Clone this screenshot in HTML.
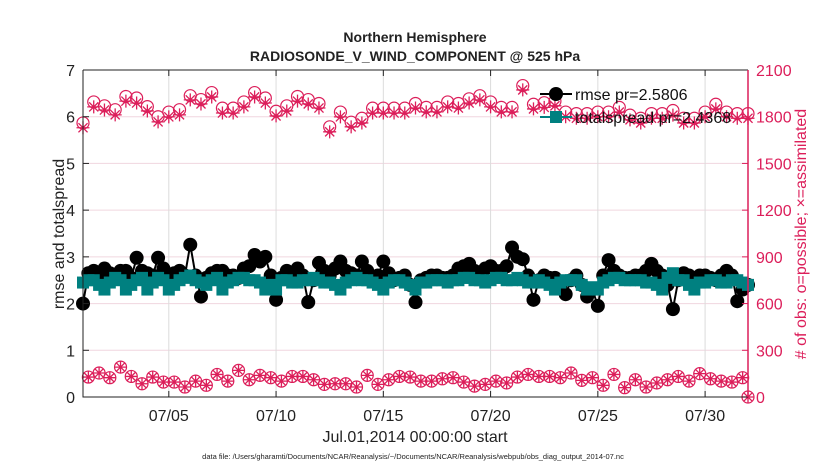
<!DOCTYPE html>
<html><head><meta charset="utf-8"><style>
body{margin:0;background:#fff;}
svg{display:block;font-family:"Liberation Sans",Arial,sans-serif;}
</style></head><body>
<svg id="c" width="830" height="470" xmlns="http://www.w3.org/2000/svg">
<rect width="830" height="470" fill="#fff"/>
<g id="grid"></g><g id="marks"></g><g id="axes"></g><g id="legend"></g>
<text x="415" y="42" text-anchor="middle" font-size="14" font-weight="bold" fill="#222">Northern Hemisphere</text>
<text x="415" y="61" text-anchor="middle" font-size="14" font-weight="bold" fill="#222">RADIOSONDE_V_WIND_COMPONENT @ 525 hPa</text>
<text x="415" y="442" text-anchor="middle" font-size="16" fill="#222">Jul.01,2014 00:00:00 start</text>
<text transform="translate(64,234) rotate(-90)" text-anchor="middle" font-size="16" fill="#222">rmse and totalspread</text>
<text transform="translate(806,234) rotate(-90)" text-anchor="middle" font-size="16" fill="#dc1e5a"># of obs: o=possible; ×=assimilated</text>
<text x="413" y="459" text-anchor="middle" font-size="7.5" fill="#222">data file: /Users/gharamti/Documents/NCAR/Reanalysis/~/Documents/NCAR/Reanalysis/webpub/obs_diag_output_2014-07.nc</text>
</svg>
<script>
const rmse=[2.0,2.65,2.7,2.6,2.75,2.65,2.6,2.7,2.7,2.55,2.98,2.7,2.65,2.6,2.98,2.75,2.6,2.65,2.7,2.6,3.26,2.6,2.15,2.55,2.65,2.7,2.7,2.6,2.6,2.55,2.75,2.8,3.04,2.9,3.0,2.6,2.08,2.55,2.7,2.65,2.75,2.6,2.03,2.5,2.87,2.7,2.6,2.75,2.9,2.7,2.65,2.6,2.9,2.7,2.55,2.6,2.9,2.65,2.5,2.55,2.6,2.4,2.03,2.5,2.55,2.6,2.6,2.55,2.55,2.6,2.75,2.8,2.85,2.7,2.6,2.75,2.8,2.7,2.7,2.8,3.2,3.0,2.95,2.6,2.08,2.5,2.6,2.55,2.55,2.4,2.2,2.5,2.6,2.4,2.15,2.3,1.95,2.6,2.93,2.7,2.6,2.55,2.55,2.6,2.6,2.7,2.85,2.7,2.6,2.4,1.88,2.5,2.65,2.6,2.55,2.6,2.6,2.55,2.5,2.6,2.7,2.6,2.05,2.3,2.4];
const spread=[2.45,2.5,2.5,2.4,2.3,2.45,2.55,2.5,2.3,2.4,2.5,2.55,2.3,2.45,2.55,2.5,2.3,2.4,2.5,2.55,2.6,2.5,2.45,2.4,2.5,2.55,2.3,2.45,2.5,2.55,2.55,2.5,2.5,2.45,2.3,2.4,2.3,2.5,2.5,2.45,2.45,2.5,2.5,2.55,2.5,2.45,2.45,2.4,2.3,2.45,2.5,2.55,2.5,2.5,2.45,2.4,2.3,2.45,2.5,2.5,2.45,2.4,2.3,2.45,2.45,2.5,2.5,2.5,2.45,2.5,2.5,2.55,2.55,2.5,2.5,2.45,2.5,2.55,2.55,2.5,2.5,2.55,2.5,2.45,2.45,2.5,2.45,2.4,2.3,2.45,2.5,2.5,2.5,2.4,2.3,2.35,2.3,2.45,2.5,2.55,2.55,2.5,2.5,2.5,2.5,2.45,2.45,2.4,2.3,2.55,2.65,2.5,2.5,2.4,2.3,2.45,2.45,2.5,2.5,2.45,2.45,2.5,2.5,2.45,2.4];
const upperAssim=[1729,1863,1843,1812,1900,1888,1837,1767,1799,1812,1908,1882,1927,1824,1824,1863,1927,1888,1805,1837,1900,1882,1856,1703,1799,1735,1760,1824,1824,1824,1824,1856,1831,1831,1863,1856,1888,1908,1863,1831,1831,1972,1850,1860,1870,1800,1790,1790,1800,1800,1830,1780,1760,1790,1790,1810,1760,1760,1800,1850,1800,1790,1790];
const upperPoss=[1760,1895,1870,1845,1930,1920,1865,1800,1830,1845,1935,1910,1955,1855,1855,1895,1955,1920,1835,1870,1930,1910,1885,1735,1830,1765,1790,1855,1855,1855,1855,1885,1860,1860,1895,1885,1915,1935,1895,1860,1860,2000,1880,1890,1900,1830,1820,1820,1830,1830,1860,1810,1790,1820,1820,1840,1790,1790,1830,1880,1830,1820,1820];
const lowerPoss=[128,154,124,192,132,85,128,96,96,64,102,75,145,102,171,111,139,124,102,132,132,111,81,85,85,64,139,81,111,132,128,102,102,117,124,96,70,81,102,90,128,145,132,132,124,154,107,124,75,145,60,111,64,90,111,132,102,150,117,102,96,124,0];
const lowerAssim=[128,154,124,192,132,85,128,96,96,64,102,75,145,102,171,111,139,124,102,132,132,111,81,85,85,64,139,81,111,132,128,102,102,117,124,96,70,81,102,90,128,145,132,132,124,154,107,124,75,145,60,111,64,90,111,132,102,150,117,102,96,124,0];
const leftTicks=[0,1,2,3,4,5,6,7];
const rightTicks=[0,300,600,900,1200,1500,1800,2100];
const xTickDays=[4,9,14,19,24,29];
const xTickLabels=["07/05","07/10","07/15","07/20","07/25","07/30"];

const L=83,R=748,T=70,B=397,PINK="#dc1e5a",TEAL="#008080";
const NS="http://www.w3.org/2000/svg";
const X=t=>L+t/31*(R-L);
const Y=v=>B-v/7*(B-T);
const YR=v=>B-v/2100*(B-T);
function mk(tag,attrs,parent){const e=document.createElementNS(NS,tag);for(const k in attrs)e.setAttribute(k,attrs[k]);parent.appendChild(e);return e;}
const grid=document.getElementById('grid'),marks=document.getElementById('marks'),axes=document.getElementById('axes'),leg=document.getElementById('legend');
const tU=i=>i*0.5, tE=i=>i*0.25, tL=i=>(i===lowerPoss.length-1)?31:0.25+i*0.5;

leftTicks.forEach(v=>{
 const g=mk('line',{x1:L,x2:R,y1:Y(v),y2:Y(v),stroke:'#f0d6df','stroke-width':1},grid);
 
 
 const t=mk('text',{x:L-8,y:Y(v)+6,'text-anchor':'end','font-size':16,fill:'#222'},axes);t.textContent=v;
 
 
 mk('line',{x1:L,x2:L+6,y1:Y(v),y2:Y(v),stroke:'#222'},axes);
});
rightTicks.forEach(v=>{
 const t=mk('text',{x:R+8,y:YR(v)+6,'font-size':16,fill:PINK},axes);t.textContent=v;
 
 
 mk('line',{x1:R-6,x2:R,y1:YR(v),y2:YR(v),stroke:PINK},axes);
});
xTickDays.forEach((d,i)=>{
 const g=mk('line',{x1:X(d),x2:X(d),y1:T,y2:B,stroke:'#dcdcdc'},grid);
 
 
 mk('line',{x1:X(d),x2:X(d),y1:B,y2:B-6,stroke:'#222'},axes);
 mk('line',{x1:X(d),x2:X(d),y1:T,y2:T+6,stroke:'#222'},axes);
 const t=mk('text',{x:X(d),y:B+24,'text-anchor':'middle','font-size':16,fill:'#222'},axes);t.textContent=xTickLabels[i];
 
 
});
const ax=mk('path',{d:`M${L},${T}V${B}H${R}M${L},${T}H${R}`,stroke:'#222',fill:'none','stroke-width':1},axes);


const ra=mk('line',{x1:R,x2:R,y1:T,y2:B,stroke:PINK,'stroke-width':1.5},axes);



function asterisk(cx,cy,r,parent,name){
 const p=mk('path',{d:`M${cx-r},${cy}H${cx+r}M${cx},${cy-r}V${cy+r}M${cx-r*.7},${cy-r*.7}L${cx+r*.7},${cy+r*.7}M${cx-r*.7},${cy+r*.7}L${cx+r*.7},${cy-r*.7}`,stroke:PINK,'stroke-width':1.3,fill:'none'},parent);
 
 
}
function circ(cx,cy,parent,name){
 const c=mk('circle',{cx,cy,r:6,fill:'none',stroke:PINK,'stroke-width':1.2},parent);
 
 
}
upperPoss.forEach((v,i)=>circ(X(tU(i)),YR(v),marks,'possible-obs-marker'));
upperAssim.forEach((v,i)=>asterisk(X(tU(i)),YR(v),6.5,marks,'assimilated-obs-marker'));
lowerPoss.forEach((v,i)=>circ(X(tL(i)),YR(v),marks,'possible-obs-marker-lower'));
lowerAssim.forEach((v,i)=>asterisk(X(tL(i)),YR(v),6,marks,'assimilated-obs-marker-lower'));

const rl=mk('polyline',{points:rmse.map((v,i)=>X(tE(i))+','+Y(v)).join(' '),stroke:'#000','stroke-width':2,fill:'none'},marks);


rmse.forEach((v,i)=>{const c=mk('circle',{cx:X(tE(i)),cy:Y(v),r:7,fill:'#000'},marks);
 
 });
const sl=mk('polyline',{points:spread.map((v,i)=>X(tE(i))+','+Y(v)).join(' '),stroke:TEAL,'stroke-width':2,fill:'none'},marks);


spread.forEach((v,i)=>{const s=mk('rect',{x:X(tE(i))-6,y:Y(v)-6,width:12,height:12,fill:TEAL},marks);
 
 });

// legend
const l1=mk('line',{x1:540,x2:572,y1:94,y2:94,stroke:'#000','stroke-width':2},leg);


const c1=mk('circle',{cx:556,cy:94,r:7,fill:'#000'},leg);


const t1=mk('text',{x:575,y:100,'font-size':16,fill:'#111'},leg);t1.textContent='rmse pr=2.5806';


const l2=mk('line',{x1:540,x2:572,y1:117,y2:117,stroke:TEAL,'stroke-width':2},leg);


const s2=mk('rect',{x:550,y:111,width:12,height:12,fill:TEAL},leg);


const t2=mk('text',{x:575,y:123,'font-size':16,fill:'#111'},leg);t2.textContent='totalspread pr=2.4368';


</script>
</body></html>
